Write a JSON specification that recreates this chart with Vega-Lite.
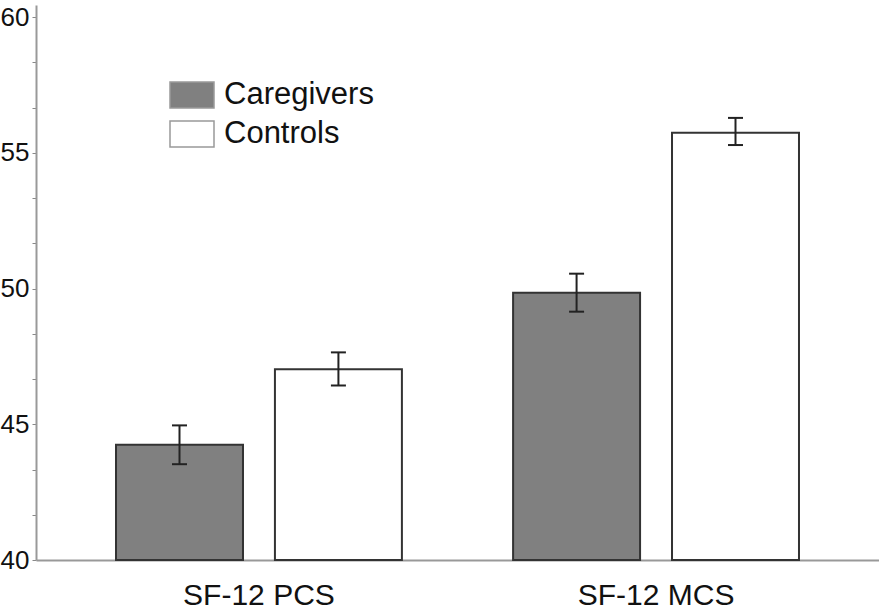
{
  "$schema": "https://vega.github.io/schema/vega-lite/v6.json",
  "width": 843,
  "height": 555,
  "autosize": {"type": "none"},
  "padding": {"left": 36, "top": 5, "right": 0, "bottom": 50},
  "background": "white",
  "config": {"view": {"stroke": null}, "font": "Liberation Sans"},
  "data": {
    "values": [
      {"measure": "SF-12 PCS", "group": "Caregivers", "mean": 44.25, "lo": 43.53, "hi": 44.96},
      {"measure": "SF-12 PCS", "group": "Controls", "mean": 47.03, "lo": 46.43, "hi": 47.65},
      {"measure": "SF-12 MCS", "group": "Caregivers", "mean": 49.85, "lo": 49.15, "hi": 50.55},
      {"measure": "SF-12 MCS", "group": "Controls", "mean": 55.74, "lo": 55.29, "hi": 56.29}
    ]
  },
  "encoding": {
    "x": {
      "field": "measure",
      "type": "nominal",
      "sort": ["SF-12 PCS", "SF-12 MCS"],
      "scale": {"paddingInner": 0.28, "paddingOuter": 0.2015},
      "axis": {
        "title": null,
        "ticks": false,
        "domainColor": "#999999",
        "domainWidth": 2,
        "labelFontSize": 30,
        "labelPadding": 20,
        "labelColor": "#111111",
        "labelAngle": 0
      }
    },
    "xOffset": {
      "field": "group",
      "type": "nominal",
      "sort": ["Caregivers", "Controls"],
      "scale": {"paddingInner": 0.201, "paddingOuter": 0}
    }
  },
  "layer": [
    {
      "mark": {"type": "bar", "stroke": "#333333", "strokeWidth": 2},
      "encoding": {
        "y": {
          "field": "mean",
          "type": "quantitative",
          "scale": {"domain": [40, 60.45], "nice": false, "zero": false},
          "axis": {
            "title": null,
            "grid": false,
            "values": [40, 40.8333, 41.6667, 42.5, 43.3333, 44.1667, 45, 45.8333, 46.6667, 47.5, 48.3333, 49.1667, 50, 50.8333, 51.6667, 52.5, 53.3333, 54.1667, 55, 55.8333, 56.6667, 57.5, 58.3333, 59.1667, 60],
            "labelExpr": "datum.value % 5 == 0 ? datum.label : ''",
            "tickSize": 4,
            "tickColor": "#888888",
            "domainColor": "#999999",
            "domainWidth": 2,
            "labelFontSize": 26,
            "labelColor": "#111111",
            "labelPadding": 3
          }
        },
        "y2": {"datum": 40},
        "fill": {
          "field": "group",
          "type": "nominal",
          "scale": {"domain": ["Caregivers", "Controls"], "range": ["#808080", "#ffffff"]},
          "legend": {
            "title": null,
            "orient": "none",
            "legendX": 133,
            "legendY": 67,
            "padding": 0,
            "symbolType": "M-1,-0.59H1V0.59H-1Z",
            "symbolSize": 1936,
            "symbolStrokeColor": "#999999",
            "symbolStrokeWidth": 1.5,
            "symbolOpacity": 1,
            "labelFontSize": 31,
            "labelColor": "#111111",
            "labelOffset": 9,
            "rowPadding": 0
          }
        }
      }
    },
    {
      "mark": {"type": "rule", "color": "#222222", "strokeWidth": 2},
      "encoding": {
        "y": {"field": "lo", "type": "quantitative"},
        "y2": {"field": "hi"}
      }
    },
    {
      "mark": {"type": "tick", "color": "#222222", "thickness": 2, "size": 15, "opacity": 1},
      "encoding": {"y": {"field": "lo", "type": "quantitative"}}
    },
    {
      "mark": {"type": "tick", "color": "#222222", "thickness": 2, "size": 15, "opacity": 1},
      "encoding": {"y": {"field": "hi", "type": "quantitative"}}
    }
  ]
}
